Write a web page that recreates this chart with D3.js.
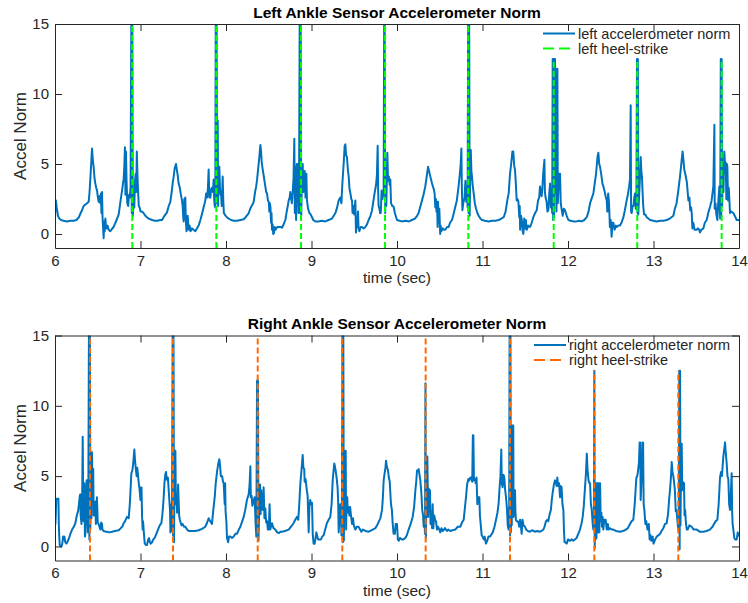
<!DOCTYPE html>
<html><head><meta charset="utf-8">
<script src="https://cdn.jsdelivr.net/npm/d3@7"></script>
<style>
body{margin:0;background:#fff}
svg text{font-family:"Liberation Sans",Arial,Helvetica,sans-serif;fill:#262626}
</style></head>
<body><svg id="chart" width="748" height="603"></svg>
<script>
const xTicks = [6,7,8,9,10,11,12,13,14];
const yTicks = [0,5,10,15];

const leftTitle = "Left Ankle Sensor Accelerometer Norm";
const rightTitle = "Right Ankle Sensor Accelerometer Norm";
const leftLegend = ["left accelerometer norm","left heel-strike"];
const rightLegend = ["right accelerometer norm","right heel-strike"];

// [time (sec), accel norm]
const leftAccel = [[6.0,1.0],[6.004,2.3],[6.01,2.4],[6.02,1.9],[6.035,1.3],[6.05,1.1],[6.07,1.0],[6.1,0.95],[6.14,0.9],[6.18,0.95],[6.22,0.95],[6.25,1.0],[6.28,1.2],[6.3,1.5],[6.316,1.7],[6.335,2.0],[6.355,2.1],[6.375,2.2],[6.394,2.3],[6.404,3.0],[6.413,3.9],[6.423,5.0],[6.433,6.1],[6.442,5.3],[6.452,4.8],[6.462,4.0],[6.472,3.6],[6.482,3.3],[6.492,3.1],[6.5,2.7],[6.511,2.3],[6.52,2.7],[6.53,2.2],[6.537,2.9],[6.543,1.5],[6.55,3.0],[6.556,1.2],[6.562,0.5],[6.569,-0.3],[6.575,0.9],[6.582,0.2],[6.589,1.1],[6.597,0.5],[6.605,0.4],[6.615,0.6],[6.627,0.3],[6.647,0.2],[6.665,0.35],[6.685,0.5],[6.7,0.7],[6.72,1.0],[6.745,1.4],[6.765,2.3],[6.784,3.1],[6.795,3.6],[6.803,3.9],[6.812,5.0],[6.818,6.2],[6.824,2.8],[6.83,5.9],[6.836,4.0],[6.845,2.2],[6.856,2.0],[6.866,2.8],[6.876,2.6],[6.884,3.4],[6.893,15.5],[6.898,1.5],[6.904,15.5],[6.91,1.3],[6.918,2.2],[6.927,1.9],[6.936,3.8],[6.944,4.3],[6.95,3.0],[6.957,5.9],[6.963,4.5],[6.97,3.3],[6.98,2.0],[6.99,1.9],[7.0,1.6],[7.018,1.6],[7.035,1.5],[7.057,1.3],[7.075,1.2],[7.096,1.1],[7.135,1.0],[7.17,0.95],[7.2,0.95],[7.23,1.0],[7.252,1.0],[7.28,1.3],[7.31,1.55],[7.33,2.0],[7.349,2.3],[7.365,3.0],[7.378,3.7],[7.388,4.1],[7.4,4.7],[7.415,5.0],[7.425,4.6],[7.435,4.2],[7.446,3.6],[7.46,3.3],[7.47,2.9],[7.485,2.4],[7.493,2.0],[7.5,1.2],[7.505,0.9],[7.512,2.5],[7.518,1.5],[7.524,2.6],[7.53,1.0],[7.538,0.2],[7.544,0.5],[7.552,1.3],[7.563,0.3],[7.575,0.6],[7.585,0.2],[7.602,0.4],[7.62,0.3],[7.641,0.2],[7.66,0.4],[7.68,0.6],[7.7,1.0],[7.719,1.43],[7.738,1.9],[7.758,2.4],[7.768,2.9],[7.778,2.6],[7.788,3.2],[7.797,4.6],[7.805,2.6],[7.817,2.6],[7.826,3.2],[7.836,3.3],[7.846,3.0],[7.856,3.9],[7.862,2.5],[7.868,2.0],[7.875,1.9],[7.88,15.5],[7.885,2.2],[7.89,15.5],[7.896,2.6],[7.903,8.1],[7.908,2.0],[7.913,4.8],[7.918,3.0],[7.922,4.8],[7.93,3.2],[7.936,2.8],[7.942,2.9],[7.95,2.0],[7.961,4.1],[7.968,2.4],[7.975,1.5],[7.992,1.33],[8.01,1.2],[8.031,1.1],[8.06,1.0],[8.09,0.95],[8.13,0.95],[8.17,1.0],[8.207,1.05],[8.23,1.2],[8.265,1.48],[8.29,1.9],[8.31,2.1],[8.324,2.3],[8.34,3.0],[8.353,3.4],[8.363,3.86],[8.375,4.6],[8.39,5.5],[8.402,6.36],[8.41,5.9],[8.418,5.1],[8.43,4.58],[8.44,4.2],[8.45,3.8],[8.46,3.4],[8.47,3.0],[8.48,2.9],[8.49,2.4],[8.5,2.3],[8.507,1.6],[8.513,2.2],[8.52,1.9],[8.527,0.8],[8.532,1.5],[8.538,0.3],[8.545,0.7],[8.552,0.0],[8.56,0.05],[8.57,0.5],[8.58,0.3],[8.6,0.5],[8.62,0.5],[8.64,0.5],[8.655,0.45],[8.675,0.7],[8.694,1.0],[8.71,1.6],[8.725,2.1],[8.733,2.4],[8.745,2.6],[8.752,3.0],[8.76,2.6],[8.77,2.2],[8.78,3.0],[8.79,4.0],[8.799,6.8],[8.805,1.5],[8.812,4.8],[8.82,1.0],[8.828,5.0],[8.835,4.2],[8.84,5.0],[8.848,1.5],[8.855,4.5],[8.862,15.5],[8.868,1.5],[8.874,15.5],[8.88,1.3],[8.888,4.0],[8.897,5.0],[8.905,3.0],[8.912,4.4],[8.92,4.5],[8.93,2.6],[8.94,4.3],[8.947,2.4],[8.96,1.8],[8.975,1.5],[8.99,1.4],[9.006,1.2],[9.02,1.0],[9.045,0.9],[9.08,0.9],[9.12,0.95],[9.16,0.9],[9.2,1.0],[9.24,1.1],[9.26,1.3],[9.28,1.5],[9.3,1.9],[9.318,2.4],[9.335,2.6],[9.35,2.2],[9.36,3.5],[9.376,5.0],[9.388,6.3],[9.396,6.4],[9.405,5.6],[9.415,5.5],[9.425,4.6],[9.435,4.1],[9.445,3.2],[9.455,2.9],[9.465,2.5],[9.474,2.4],[9.48,1.5],[9.49,2.0],[9.5,1.4],[9.513,2.4],[9.52,0.1],[9.528,1.2],[9.535,0.5],[9.544,1.6],[9.55,0.4],[9.56,0.2],[9.575,0.5],[9.59,0.5],[9.61,0.4],[9.63,0.5],[9.65,0.7],[9.668,1.0],[9.69,1.3],[9.708,1.7],[9.725,2.4],[9.74,3.0],[9.755,3.5],[9.765,4.2],[9.774,6.3],[9.78,3.0],[9.785,2.0],[9.795,1.8],[9.802,1.5],[9.81,1.5],[9.82,3.1],[9.83,2.5],[9.844,3.1],[9.85,15.5],[9.856,15.5],[9.862,1.5],[9.868,4.5],[9.875,2.0],[9.887,5.8],[9.895,3.8],[9.905,4.1],[9.915,3.5],[9.922,3.9],[9.93,2.2],[9.945,2.0],[9.961,1.95],[9.975,1.5],[10.0,1.0],[10.03,0.95],[10.058,0.9],[10.1,0.95],[10.14,0.9],[10.175,1.0],[10.21,1.1],[10.235,1.3],[10.253,1.5],[10.27,1.9],[10.292,2.4],[10.31,2.8],[10.331,3.4],[10.345,4.0],[10.363,4.8],[10.375,4.5],[10.39,4.1],[10.41,3.6],[10.43,3.2],[10.44,2.9],[10.448,1.9],[10.455,2.5],[10.462,1.6],[10.468,2.3],[10.475,0.5],[10.48,2.3],[10.487,0.8],[10.495,1.8],[10.505,0.0],[10.51,0.6],[10.52,0.2],[10.535,0.4],[10.55,0.3],[10.565,0.3],[10.585,0.5],[10.604,0.5],[10.62,0.8],[10.643,1.0],[10.66,1.4],[10.682,1.95],[10.7,2.4],[10.72,3.4],[10.735,4.3],[10.745,5.0],[10.753,6.1],[10.758,3.5],[10.765,1.7],[10.775,2.2],[10.79,2.6],[10.8,3.8],[10.81,2.3],[10.818,3.3],[10.826,1.9],[10.832,15.5],[10.838,1.5],[10.844,15.5],[10.85,1.3],[10.856,4.0],[10.863,6.0],[10.87,4.5],[10.877,4.1],[10.885,3.5],[10.897,2.9],[10.91,2.2],[10.925,1.8],[10.94,1.5],[10.955,1.3],[10.975,1.1],[10.994,1.0],[11.03,0.95],[11.072,0.9],[11.11,0.95],[11.15,0.95],[11.19,1.0],[11.22,1.1],[11.248,1.2],[11.27,1.6],[11.29,2.4],[11.306,2.9],[11.322,4.3],[11.335,5.0],[11.35,5.9],[11.36,5.9],[11.37,4.9],[11.38,4.6],[11.39,3.6],[11.4,2.4],[11.41,2.5],[11.42,2.3],[11.43,1.2],[11.435,2.0],[11.44,0.3],[11.45,1.3],[11.46,1.0],[11.47,0.2],[11.478,0.0],[11.488,1.1],[11.497,0.4],[11.507,1.0],[11.517,0.3],[11.535,0.6],[11.556,0.5],[11.575,0.8],[11.595,1.2],[11.615,1.5],[11.634,1.7],[11.65,2.4],[11.663,2.6],[11.673,3.4],[11.683,3.0],[11.692,2.7],[11.7,3.2],[11.71,4.3],[11.724,5.3],[11.73,3.0],[11.738,2.6],[11.75,2.3],[11.76,1.6],[11.77,1.7],[11.78,2.8],[11.79,3.6],[11.8,1.9],[11.81,2.6],[11.815,1.5],[11.821,12.5],[11.826,1.0],[11.832,12.5],[11.837,1.2],[11.843,12.5],[11.848,12.5],[11.853,2.9],[11.86,10.5],[11.865,1.6],[11.871,11.8],[11.876,11.8],[11.881,2.2],[11.888,3.2],[11.895,4.3],[11.9,3.4],[11.907,4.3],[11.915,2.2],[11.925,1.8],[11.938,1.3],[11.95,1.8],[11.965,1.7],[11.985,1.3],[12.004,1.0],[12.03,0.95],[12.063,0.9],[12.1,0.9],[12.13,0.95],[12.16,0.9],[12.19,1.0],[12.219,1.2],[12.24,1.6],[12.258,2.2],[12.28,2.6],[12.297,2.9],[12.31,3.5],[12.328,4.3],[12.345,5.5],[12.355,5.8],[12.365,5.0],[12.375,4.8],[12.39,4.2],[12.403,3.6],[12.414,3.4],[12.43,3.0],[12.44,2.7],[12.453,2.4],[12.46,1.6],[12.47,2.9],[12.48,2.2],[12.49,0.5],[12.5,1.0],[12.51,-0.2],[12.52,0.8],[12.53,0.8],[12.545,0.3],[12.56,0.6],[12.57,0.5],[12.59,0.6],[12.608,0.6],[12.625,0.8],[12.648,1.2],[12.665,1.7],[12.686,2.4],[12.7,2.8],[12.715,3.4],[12.725,3.9],[12.733,9.2],[12.738,1.6],[12.745,1.5],[12.755,2.0],[12.766,2.0],[12.775,2.6],[12.784,2.9],[12.793,1.8],[12.8,2.2],[12.807,12.5],[12.812,1.5],[12.817,12.5],[12.822,1.4],[12.83,2.5],[12.84,3.8],[12.85,5.5],[12.858,4.5],[12.865,4.1],[12.872,3.0],[12.88,2.0],[12.89,1.4],[12.905,1.4],[12.92,1.2],[12.94,1.1],[12.96,1.0],[13.0,0.95],[13.037,0.9],[13.08,0.95],[13.12,0.95],[13.154,1.0],[13.19,1.1],[13.21,1.2],[13.232,1.3],[13.25,1.8],[13.27,2.2],[13.29,3.1],[13.31,4.1],[13.325,5.0],[13.34,5.9],[13.35,5.3],[13.36,4.6],[13.375,4.2],[13.39,3.7],[13.408,2.4],[13.42,2.6],[13.43,1.7],[13.44,1.9],[13.447,1.5],[13.455,0.4],[13.465,0.8],[13.48,0.3],[13.49,0.3],[13.505,0.3],[13.52,0.4],[13.535,0.3],[13.544,0.1],[13.56,0.3],[13.583,0.4],[13.6,0.8],[13.622,1.0],[13.64,1.5],[13.661,1.95],[13.68,2.4],[13.7,3.4],[13.712,7.8],[13.716,1.8],[13.725,2.2],[13.735,1.4],[13.747,1.0],[13.755,2.0],[13.77,3.4],[13.78,1.1],[13.787,12.5],[13.792,1.2],[13.797,12.5],[13.803,2.0],[13.81,4.5],[13.818,3.0],[13.828,5.9],[13.836,5.0],[13.845,5.1],[13.852,2.5],[13.858,5.0],[13.864,4.8],[13.872,2.4],[13.88,3.3],[13.895,1.5],[13.91,1.6],[13.934,1.5],[13.95,1.3],[13.973,1.0],[14.0,1.0]];

const rightAccel = [[6.0,2.0],[6.005,1.6],[6.01,2.4],[6.015,3.4],[6.025,3.4],[6.035,3.4],[6.04,3.4],[6.045,1.5],[6.05,0.7],[6.055,0.1],[6.065,0.0],[6.075,0.0],[6.085,0.2],[6.095,0.7],[6.1,0.5],[6.11,0.7],[6.12,0.3],[6.135,0.2],[6.15,0.4],[6.165,0.6],[6.18,0.9],[6.2,1.2],[6.22,1.4],[6.238,1.65],[6.255,2.2],[6.27,2.5],[6.28,3.0],[6.29,3.6],[6.296,3.7],[6.3,2.2],[6.31,1.6],[6.318,3.5],[6.324,7.8],[6.33,3.0],[6.335,1.8],[6.343,4.5],[6.35,0.7],[6.357,1.0],[6.362,3.5],[6.37,4.7],[6.378,2.0],[6.386,1.0],[6.39,4.0],[6.397,15.5],[6.402,0.5],[6.408,15.5],[6.414,1.3],[6.42,4.2],[6.426,2.0],[6.433,6.7],[6.44,3.0],[6.447,5.5],[6.452,2.2],[6.458,3.0],[6.464,2.6],[6.47,3.2],[6.478,1.6],[6.485,2.2],[6.49,3.5],[6.5,1.7],[6.51,1.6],[6.52,1.4],[6.53,1.2],[6.54,1.7],[6.55,1.6],[6.555,1.2],[6.57,1.1],[6.59,1.05],[6.608,1.05],[6.63,1.0],[6.667,1.05],[6.7,1.1],[6.745,1.15],[6.77,1.3],[6.79,1.45],[6.803,1.65],[6.82,1.8],[6.842,2.1],[6.862,2.0],[6.875,3.0],[6.885,4.2],[6.893,5.2],[6.905,5.4],[6.915,5.9],[6.92,6.3],[6.928,6.9],[6.935,6.2],[6.947,5.4],[6.955,5.0],[6.962,5.6],[6.97,5.1],[6.98,4.5],[6.99,4.0],[6.999,3.3],[7.005,4.2],[7.012,4.2],[7.018,2.2],[7.025,1.2],[7.03,1.8],[7.04,0.9],[7.05,0.2],[7.065,0.1],[7.076,0.1],[7.09,0.5],[7.1,0.6],[7.11,0.3],[7.12,0.2],[7.135,0.3],[7.15,0.5],[7.166,0.6],[7.185,0.9],[7.205,1.2],[7.225,1.5],[7.244,1.65],[7.255,2.2],[7.263,2.8],[7.271,3.5],[7.28,4.5],[7.29,5.1],[7.298,5.3],[7.306,4.8],[7.315,4.7],[7.32,4.9],[7.328,4.2],[7.337,3.3],[7.345,2.6],[7.35,1.0],[7.356,1.4],[7.362,3.0],[7.368,1.1],[7.376,15.5],[7.381,0.8],[7.386,15.5],[7.392,0.3],[7.397,4.5],[7.403,6.8],[7.408,6.8],[7.414,3.0],[7.42,3.6],[7.428,2.4],[7.434,3.3],[7.44,4.4],[7.446,3.3],[7.452,2.2],[7.46,1.9],[7.47,1.7],[7.48,1.5],[7.492,1.6],[7.51,1.4],[7.525,1.4],[7.545,1.2],[7.564,1.1],[7.6,1.1],[7.64,1.1],[7.68,1.15],[7.72,1.25],[7.758,1.4],[7.78,1.7],[7.797,2.0],[7.815,1.8],[7.836,1.6],[7.85,2.5],[7.868,3.5],[7.88,4.5],[7.895,5.3],[7.91,5.9],[7.922,6.2],[7.93,5.8],[7.94,5.0],[7.955,5.0],[7.965,4.6],[7.973,4.5],[7.985,3.0],[7.99,4.5],[7.995,2.5],[8.005,1.7],[8.012,0.6],[8.025,0.3],[8.035,0.7],[8.05,0.7],[8.07,0.6],[8.09,0.7],[8.11,0.9],[8.128,0.9],[8.15,1.2],[8.168,1.4],[8.19,1.8],[8.207,2.1],[8.225,2.6],[8.245,3.3],[8.265,3.7],[8.275,4.3],[8.285,5.7],[8.29,3.5],[8.3,3.6],[8.308,2.9],[8.316,3.1],[8.325,3.3],[8.335,3.5],[8.345,1.8],[8.355,0.7],[8.363,11.8],[8.368,1.0],[8.374,11.8],[8.38,0.4],[8.388,2.5],[8.398,4.4],[8.405,2.3],[8.412,4.0],[8.42,3.0],[8.43,2.6],[8.44,4.2],[8.45,2.0],[8.46,2.7],[8.47,1.7],[8.48,1.8],[8.49,1.2],[8.5,1.2],[8.51,3.0],[8.518,1.2],[8.53,1.5],[8.538,1.65],[8.555,1.3],[8.577,1.2],[8.6,1.0],[8.616,0.95],[8.64,1.05],[8.655,1.05],[8.69,1.1],[8.733,1.2],[8.76,1.4],[8.79,1.65],[8.81,1.9],[8.83,2.1],[8.845,1.9],[8.855,2.8],[8.87,4.5],[8.88,5.2],[8.897,6.5],[8.905,5.6],[8.915,5.5],[8.92,4.6],[8.93,4.8],[8.945,4.0],[8.955,3.6],[8.967,1.0],[8.975,2.8],[8.985,3.3],[8.995,3.0],[9.006,3.1],[9.015,0.8],[9.025,0.2],[9.037,0.2],[9.045,0.5],[9.057,1.0],[9.065,0.8],[9.076,0.5],[9.09,0.5],[9.11,0.5],[9.125,0.7],[9.142,0.8],[9.16,1.2],[9.18,1.65],[9.2,1.9],[9.22,2.1],[9.235,3.0],[9.248,4.7],[9.258,5.4],[9.267,5.9],[9.277,5.6],[9.287,5.2],[9.295,4.8],[9.305,4.2],[9.312,3.2],[9.318,1.0],[9.325,1.8],[9.337,3.0],[9.345,2.2],[9.35,0.8],[9.356,3.5],[9.362,15.5],[9.367,0.3],[9.372,15.5],[9.378,0.4],[9.386,4.5],[9.395,6.8],[9.4,6.8],[9.405,1.2],[9.41,3.3],[9.418,3.5],[9.425,2.4],[9.435,2.8],[9.443,2.2],[9.452,2.8],[9.46,2.3],[9.474,1.6],[9.485,2.0],[9.495,1.5],[9.513,1.2],[9.53,1.4],[9.55,1.4],[9.583,1.05],[9.6,1.2],[9.63,1.1],[9.668,1.05],[9.7,1.15],[9.747,1.3],[9.775,1.6],[9.805,2.0],[9.825,2.6],[9.835,3.5],[9.844,4.7],[9.855,5.2],[9.865,5.6],[9.872,6.1],[9.88,5.7],[9.895,5.4],[9.905,4.9],[9.915,4.6],[9.922,3.8],[9.93,3.0],[9.94,2.6],[9.95,1.6],[9.96,0.9],[9.975,0.9],[9.985,1.6],[10.0,1.6],[10.01,0.5],[10.02,0.4],[10.035,0.6],[10.058,0.5],[10.075,0.5],[10.097,0.6],[10.115,0.8],[10.136,1.2],[10.16,1.6],[10.183,2.1],[10.2,2.8],[10.215,4.0],[10.225,4.6],[10.234,5.4],[10.245,5.4],[10.253,5.5],[10.263,5.1],[10.273,4.7],[10.285,3.8],[10.295,2.6],[10.305,2.2],[10.312,1.4],[10.32,2.2],[10.327,0.9],[10.333,11.6],[10.338,0.6],[10.343,3.0],[10.35,4.0],[10.355,6.4],[10.36,4.0],[10.365,2.1],[10.372,4.1],[10.38,2.8],[10.386,4.0],[10.392,1.6],[10.4,2.5],[10.41,1.3],[10.417,3.0],[10.425,1.3],[10.435,2.2],[10.45,1.8],[10.456,1.8],[10.468,1.2],[10.48,1.4],[10.495,1.2],[10.506,1.0],[10.52,1.3],[10.535,1.1],[10.546,1.15],[10.56,1.3],[10.585,1.1],[10.6,1.2],[10.624,1.1],[10.65,1.15],[10.682,1.2],[10.71,1.4],[10.74,1.4],[10.76,1.7],[10.78,1.9],[10.795,2.8],[10.807,3.5],[10.82,4.4],[10.835,4.8],[10.846,4.7],[10.858,4.9],[10.87,4.9],[10.88,4.6],[10.887,7.9],[10.893,7.9],[10.9,4.7],[10.91,4.8],[10.92,4.5],[10.93,4.9],[10.94,3.0],[10.95,3.5],[10.955,3.2],[10.963,3.5],[10.97,2.2],[10.98,1.5],[10.99,0.8],[11.0,0.7],[11.015,0.5],[11.025,0.7],[11.04,0.2],[11.055,0.4],[11.07,0.7],[11.09,0.7],[11.11,0.9],[11.12,1.0],[11.14,1.4],[11.158,1.9],[11.175,2.4],[11.189,3.1],[11.2,4.2],[11.21,5.0],[11.22,6.9],[11.225,4.5],[11.235,4.2],[11.245,5.1],[11.255,4.9],[11.265,4.0],[11.275,3.5],[11.287,2.6],[11.295,1.5],[11.305,1.2],[11.312,3.0],[11.317,15.5],[11.322,0.8],[11.327,15.5],[11.332,1.0],[11.337,8.6],[11.342,1.5],[11.348,8.6],[11.355,8.6],[11.36,8.6],[11.363,2.1],[11.37,3.0],[11.38,4.0],[11.385,2.5],[11.39,1.9],[11.4,1.8],[11.41,1.8],[11.42,1.7],[11.43,1.4],[11.44,1.9],[11.45,1.4],[11.458,0.9],[11.468,1.9],[11.48,1.5],[11.497,1.4],[11.51,1.2],[11.53,1.1],[11.556,1.05],[11.58,1.15],[11.614,1.05],[11.64,1.1],[11.673,1.05],[11.69,1.1],[11.712,1.2],[11.725,1.4],[11.743,1.8],[11.76,1.9],[11.77,1.8],[11.785,2.3],[11.8,2.6],[11.81,3.3],[11.82,3.8],[11.835,4.4],[11.848,4.7],[11.858,4.5],[11.868,4.3],[11.875,4.9],[11.885,4.3],[11.895,4.5],[11.907,3.5],[11.915,4.3],[11.925,4.2],[11.935,3.0],[11.946,2.6],[11.953,1.1],[11.96,0.3],[11.97,0.3],[11.985,0.2],[12.0,0.5],[12.024,0.4],[12.045,0.5],[12.063,0.4],[12.08,0.5],[12.1,0.6],[12.12,0.9],[12.14,1.2],[12.157,1.6],[12.172,2.1],[12.185,2.9],[12.2,4.3],[12.21,5.2],[12.22,6.6],[12.228,5.5],[12.24,4.7],[12.25,4.5],[12.258,4.5],[12.268,3.0],[12.278,2.6],[12.29,1.5],[12.297,1.2],[12.303,2.0],[12.308,12.5],[12.313,-0.1],[12.318,4.5],[12.323,0.5],[12.328,4.5],[12.333,0.6],[12.34,4.5],[12.345,1.0],[12.35,4.5],[12.356,1.0],[12.362,4.5],[12.367,1.0],[12.375,4.5],[12.383,1.8],[12.39,2.4],[12.398,1.4],[12.405,2.1],[12.413,1.2],[12.425,1.9],[12.44,1.9],[12.453,1.2],[12.465,1.6],[12.475,1.2],[12.49,1.3],[12.51,1.2],[12.53,1.2],[12.56,1.1],[12.609,1.05],[12.64,1.1],[12.667,1.15],[12.7,1.3],[12.725,1.6],[12.745,1.8],[12.764,1.9],[12.78,3.0],[12.8,4.9],[12.81,5.0],[12.82,5.4],[12.83,6.0],[12.838,7.4],[12.845,7.4],[12.85,3.3],[12.858,4.5],[12.866,5.5],[12.872,7.4],[12.878,7.4],[12.885,3.0],[12.893,2.6],[12.905,1.6],[12.915,1.8],[12.93,1.2],[12.945,1.6],[12.955,0.5],[12.965,0.8],[12.975,0.4],[12.99,0.7],[13.0,0.2],[13.02,0.5],[13.037,0.7],[13.06,0.8],[13.077,0.9],[13.095,1.1],[13.115,1.3],[13.135,1.6],[13.154,1.65],[13.17,2.3],[13.185,3.5],[13.193,4.0],[13.205,5.0],[13.213,6.0],[13.222,5.3],[13.232,5.0],[13.24,4.6],[13.25,4.0],[13.26,2.5],[13.27,2.6],[13.28,1.8],[13.29,1.2],[13.296,2.4],[13.301,12.5],[13.306,-0.2],[13.311,12.5],[13.316,1.5],[13.322,5.8],[13.33,7.3],[13.336,4.0],[13.342,4.6],[13.35,4.4],[13.357,4.5],[13.363,2.2],[13.37,2.6],[13.38,1.6],[13.39,1.2],[13.4,1.2],[13.42,1.5],[13.447,1.4],[13.47,1.2],[13.505,1.2],[13.54,1.05],[13.583,1.05],[13.62,1.1],[13.66,1.2],[13.69,1.4],[13.708,1.6],[13.728,1.8],[13.747,1.9],[13.762,3.0],[13.778,4.9],[13.79,5.3],[13.8,5.0],[13.817,6.4],[13.827,6.9],[13.837,7.4],[13.845,6.7],[13.856,5.9],[13.865,5.0],[13.875,4.8],[13.885,3.0],[13.895,2.6],[13.905,3.8],[13.914,5.2],[13.92,2.5],[13.925,1.6],[13.934,1.2],[13.945,0.6],[13.955,0.5],[13.973,0.5],[13.985,1.0],[13.995,0.8],[14.0,0.7]];

// heel-strike event times (sec) and the height each marker line reaches
const leftHeelStrike = [6.904,7.887,8.877,9.86,10.834,11.833,12.81,13.797];
const leftHeelTop = [15,15,15,15,15,12.5,12.5,12.5];
const rightHeelStrike = [6.409,7.38,8.371,9.36,10.335,11.322,12.308,13.29];
const rightHeelTop = [15,15,15,15,15,15,12.5,12.5];

const svg = d3.select("#chart");
const AX = "#262626";
const BLUE = "#0072BD";

function panel(cfg){
  const x = d3.scaleLinear().domain([6,14]).range([55,739]);
  const y = d3.scaleLinear().domain([-1,15]).range([cfg.bottom, cfg.top]);
  const g = svg.append("g");
  const cid = "clip" + cfg.id;
  svg.append("clipPath").attr("id", cid).append("rect")
    .attr("x", 55).attr("y", cfg.top).attr("width", 684).attr("height", cfg.bottom - cfg.top);

  const plot = g.append("g").attr("clip-path", `url(#${cid})`);
  const line = d3.line().x(d => x(d[0])).y(d => y(d[1]));
  plot.append("path").datum(cfg.data).attr("d", line)
    .attr("fill", "none").attr("stroke", BLUE).attr("stroke-width", 2)
    .attr("stroke-linejoin", "round");
  plot.selectAll("line.hs").data(cfg.hs).join("line").attr("class","hs")
    .attr("x1", d => x(d)).attr("x2", d => x(d))
    .attr("y1", y(-1)).attr("y2", (d,i) => y(cfg.hsTop[i]))
    .attr("stroke", cfg.hsColor).attr("stroke-width", 2)
    .attr("stroke-dasharray", "6,3");

  // axes (ticks pointing inward, box on)
  const ax = [
    d3.axisBottom(x).tickValues(xTicks).tickSizeInner(-7).tickSizeOuter(0).tickPadding(7).tickFormat(d3.format("d")),
    d3.axisTop(x).tickValues(xTicks).tickSizeInner(-7).tickSizeOuter(0).tickFormat(""),
    d3.axisLeft(y).tickValues(yTicks).tickSizeInner(-7).tickSizeOuter(0).tickPadding(6),
    d3.axisRight(y).tickValues(yTicks).tickSizeInner(-7).tickSizeOuter(0).tickFormat("")
  ];
  const tr = [`translate(0,${cfg.bottom})`, `translate(0,${cfg.top})`, `translate(55,0)`, `translate(739,0)`];
  ax.forEach((a,i) => {
    const ag = g.append("g").attr("transform", tr[i]).call(a);
    ag.select(".domain").attr("stroke", AX).attr("stroke-width", 1);
    ag.selectAll(".tick line").attr("stroke", AX).attr("stroke-width", 1);
    ag.selectAll(".tick text").attr("fill", AX).style("font-size", "15px")
      .style("font-family", '"Liberation Sans",Arial,Helvetica,sans-serif');
  });

  g.append("text").attr("x", 397).attr("y", cfg.top - 6.5).attr("text-anchor", "middle")
    .style("font-size", "15.5px").style("font-weight", "bold").style("fill","#000").text(cfg.title);
  g.append("text").attr("x", 397).attr("y", cfg.bottom + 35).attr("text-anchor", "middle")
    .style("font-size", "15.5px").text("time (sec)");
  g.append("text").attr("transform", `translate(20,${(cfg.top+cfg.bottom)/2}) rotate(-90)`)
    .attr("text-anchor", "middle").attr("dy", "0.35em").style("font-size", "17px").text("Accel Norm");

  // legend (no box): sample line then left-aligned label
  const rows = [{y: cfg.top + 9.5, label: cfg.legend[0], color: BLUE, dash: null},
                {y: cfg.top + 24.5, label: cfg.legend[1], color: cfg.hsColor, dash: "11,5"}];
  rows.forEach(r => {
    g.append("line").attr("x1", cfg.legX).attr("x2", cfg.legX + 32).attr("y1", r.y).attr("y2", r.y)
      .attr("stroke", r.color).attr("stroke-width", 2).attr("stroke-dasharray", r.dash);
    g.append("text").attr("x", cfg.legX + 35).attr("y", r.y + 5)
      .style("font-size", "14.5px").text(r.label);
  });
}

panel({id: "L", top: 24, bottom: 248, data: leftAccel, hs: leftHeelStrike, hsTop: leftHeelTop,
       hsColor: "#00FF00", title: leftTitle, legend: leftLegend, legX: 543});
panel({id: "R", top: 335.5, bottom: 560.5, data: rightAccel, hs: rightHeelStrike, hsTop: rightHeelTop,
       hsColor: "#FF6A00", title: rightTitle, legend: rightLegend, legX: 534});
</script>
</body></html>
